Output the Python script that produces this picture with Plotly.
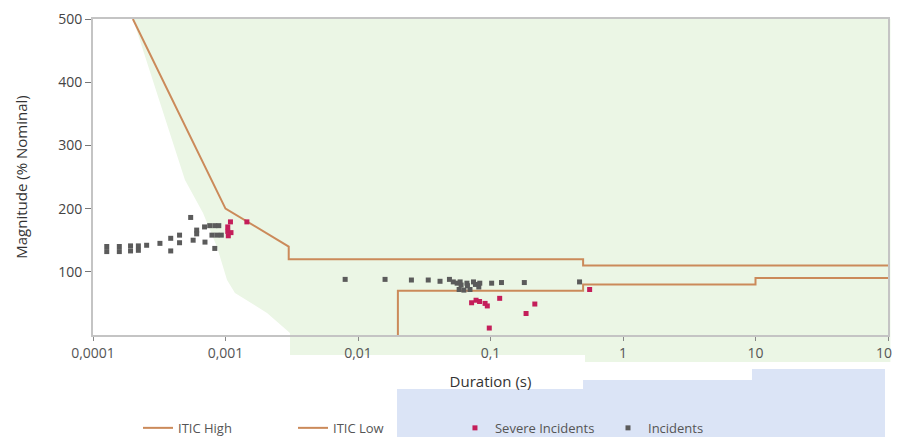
import plotly.graph_objects as go

# ITIC curves
itic_high_x = [2e-4, 1e-3, 3e-3, 3e-3, 0.5, 0.5, 100]
itic_high_y = [500, 200, 140, 120, 120, 110, 110]
itic_low_x = [0.02, 0.02, 0.5, 0.5, 10, 10, 100]
itic_low_y = [0, 70, 70, 80, 80, 90, 90]

# Incidents (gray)
inc_x = [1.27e-4, 1.27e-4, 1.58e-4, 1.58e-4, 1.92e-4, 1.92e-4, 2.2e-4, 2.2e-4,
         2.54e-4, 3.2e-4, 3.86e-4, 3.86e-4, 4.5e-4, 4.5e-4, 5.46e-4, 5.7e-4,
         6.06e-4, 6.06e-4, 7.0e-4, 6.95e-4, 7.6e-4, 8.3e-4, 7.9e-4, 8.6e-4,
         9.3e-4, 8.3e-4, 8.9e-4,
         0.008, 0.016, 0.0253, 0.0339, 0.0416, 0.049, 0.0524, 0.056, 0.059, 0.06,
         0.0664, 0.067, 0.0744, 0.077, 0.0816, 0.083, 0.102, 0.121, 0.18, 0.47,
         0.058, 0.063, 0.07]
inc_y = [140, 132, 140, 132, 141, 133, 141, 134,
         142, 145, 153, 133, 158, 146, 186, 150,
         166, 160, 147, 171, 173, 137, 158, 158,
         158, 173, 173,
         88, 88, 87, 87, 85, 88, 84, 82, 84, 79,
         82, 78, 84, 80, 76, 82, 82, 83, 83, 84,
         72, 71, 72]

# Severe incidents (crimson)
sev_x = [1.04e-3, 1.09e-3, 1.04e-3, 1.05e-3, 1.1e-3, 1.45e-3,
         0.072, 0.0778, 0.0827, 0.091, 0.0946, 0.1173, 0.0979, 0.1855, 0.216, 0.56]
sev_y = [171, 179, 164, 157, 162, 179,
         51, 55, 53, 50, 46, 58, 11, 34, 49, 72]

x_tickvals = [0.0001, 0.001, 0.01, 0.1, 1, 10, 100]
x_ticktext = ["0,0001", "0,001", "0,01", "0,1", "1", "10", "100"]
y_tickvals = [100, 200, 300, 400, 500]

# background highlight artifacts (paper coordinates)
green_x = [0.0503, 1.003, 1.003, 0.6189, 0.6189, 0.2478, 0.2478, 0.2189, 0.1786, 0.1686, 0.1560, 0.1384, 0.1157, 0.0503]
green_y = [1.0, 1.0, -0.0854, -0.0854, -0.0633, -0.0633, 0.0063, 0.0696, 0.1329, 0.1740, 0.2785, 0.3861, 0.4905, 1.0]
blue_x = [0.3824, 0.6164, 0.6164, 0.8289, 0.8289, 0.9962, 0.9962, 0.3824]
blue_y = [-0.1709, -0.1709, -0.1424, -0.1424, -0.1076, -0.1076, -0.3228, -0.3228]


def path(xs, ys):
    return "M " + " L ".join(f"{a},{b}" for a, b in zip(xs, ys)) + " Z"


LINE_COLOR = "#cb8a5a"
FONT = "Open Sans, Noto Sans, sans-serif"

fig = go.Figure()
fig.add_trace(go.Scatter(x=itic_high_x, y=itic_high_y, mode="lines", name="ITIC High",
                         line=dict(color=LINE_COLOR, width=2), legend="legend", showlegend=True))
fig.add_trace(go.Scatter(x=itic_low_x, y=itic_low_y, mode="lines", name="ITIC Low",
                         line=dict(color=LINE_COLOR, width=2), legend="legend2", showlegend=True))
fig.add_trace(go.Scatter(x=sev_x, y=sev_y, mode="markers", name="Severe Incidents",
                         marker=dict(symbol="square", size=5, color="#c41e5a"),
                         legend="legend3", cliponaxis=False, showlegend=True))
fig.add_trace(go.Scatter(x=inc_x, y=inc_y, mode="markers", name="Incidents",
                         marker=dict(symbol="square", size=5, color="#5b5b5b"),
                         legend="legend4", cliponaxis=False, showlegend=True))

shapes = [
    dict(type="path", xref="paper", yref="paper", path=path(green_x, green_y),
         fillcolor="#ebf6e5", line=dict(width=0), layer="below"),
    dict(type="path", xref="paper", yref="paper", path=path(blue_x, blue_y),
         fillcolor="#dbe4f6", line=dict(width=0), layer="below"),
]

leg_common = dict(orientation="h", yanchor="middle", xanchor="left", y=-0.294,
                  bgcolor="rgba(0,0,0,0)", font=dict(family=FONT, size=13, color="#555555"))

# page body has an 8px margin, so the figure is 8px smaller than the window
fig.update_layout(
    width=892, height=429,
    margin=dict(l=85, r=12, t=11, b=102, autoexpand=False),
    showlegend=True,
    paper_bgcolor="white", plot_bgcolor="rgba(0,0,0,0)",
    font=dict(family=FONT, size=12, color="#444444"),
    shapes=shapes,
    legend=dict(x=0.0566, **leg_common),
    legend2=dict(x=0.2516, **leg_common),
    legend3=dict(x=0.4553, **leg_common),
    legend4=dict(x=0.6478, **leg_common),
    xaxis=dict(type="log", range=[-4, 2], tickvals=x_tickvals, ticktext=x_ticktext,
               automargin=False, ticklabeloverflow="allow",
               showgrid=False, zeroline=False, showline=True, linecolor="#c4c4c4", linewidth=2,
               mirror=True, ticks="outside", ticklen=4, tickcolor="#888888",
               tickfont=dict(size=14, color="#555555"),
               title=dict(text="Duration (s)", font=dict(size=15, color="#333333"), standoff=16)),
    yaxis=dict(range=[0, 500], tickvals=y_tickvals, automargin=False,
               showgrid=False, zeroline=False, showline=True, linecolor="#c4c4c4", linewidth=2,
               mirror=True, ticks="outside", ticklen=6, tickcolor="#777777",
               tickfont=dict(size=14, color="#444444"),
               title=dict(text="Magnitude (% Nominal)", font=dict(size=15, color="#333333"), standoff=27)),
)

fig.write_html("out.html")
